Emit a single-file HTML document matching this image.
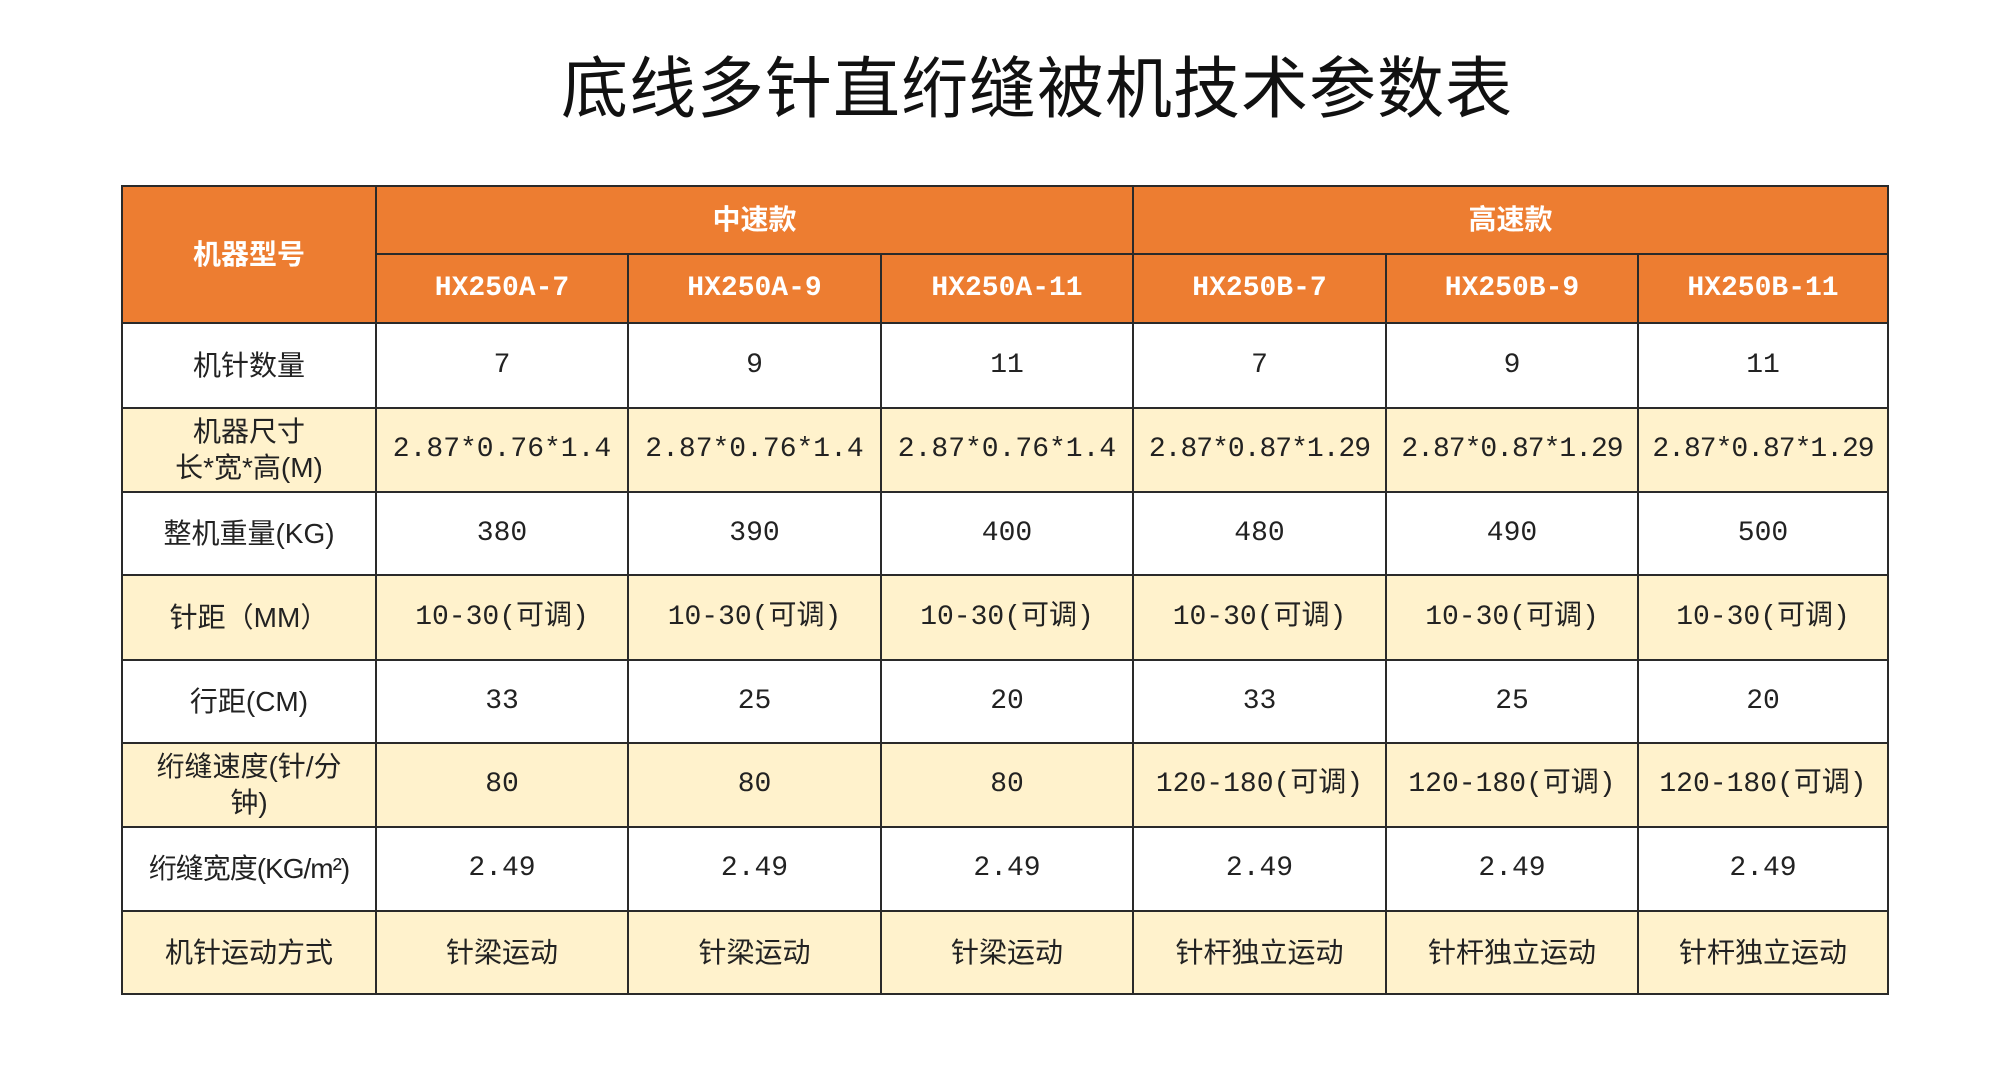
<!DOCTYPE html>
<html><head><meta charset="utf-8"><style>
html,body{margin:0;padding:0;background:#fff;width:2000px;height:1088px;overflow:hidden}
.t{position:absolute;left:74px;top:54px;width:1926px;text-align:center;font-family:"Liberation Sans","Noto Sans CJK SC",sans-serif;font-size:67px;color:#111;line-height:72px;letter-spacing:1px}
table{position:absolute;left:121px;top:185px;border-collapse:collapse;table-layout:fixed;width:1766px}
td{border:2px solid #2a2a2a;text-align:center;vertical-align:middle;padding:0;font-family:"Liberation Mono","Noto Sans CJK SC",monospace;font-size:28px;color:#222;line-height:36px;overflow:hidden;white-space:nowrap}
.h td{background:#ED7D31;color:#fff;font-weight:bold;font-family:"Liberation Mono","Noto Sans CJK SC",sans-serif;font-size:28px}
.y td{background:#FFF2CC}
td.l{font-family:"Liberation Sans","Noto Sans CJK SC",sans-serif;font-size:28px;line-height:36px}
</style></head><body>
<div class="t">底线多针直绗缝被机技术参数表</div>
<table>
<colgroup><col style="width:254px"><col style="width:252px"><col style="width:253px"><col style="width:252px"><col style="width:253px"><col style="width:252px"><col style="width:250px"></colgroup>
<tr class="h" style="height:68px"><td rowspan="2" style="font-family:'Liberation Sans','Noto Sans CJK SC',sans-serif">机器型号</td><td colspan="3" style="font-family:'Liberation Sans','Noto Sans CJK SC',sans-serif">中速款</td><td colspan="3" style="font-family:'Liberation Sans','Noto Sans CJK SC',sans-serif">高速款</td></tr>
<tr class="h" style="height:69px"><td>HX250A-7</td><td>HX250A-9</td><td>HX250A-11</td><td>HX250B-7</td><td>HX250B-9</td><td>HX250B-11</td></tr>
<tr style="height:85px"><td class="l">机针数量</td><td>7</td><td>9</td><td>11</td><td>7</td><td>9</td><td>11</td></tr>
<tr class="y" style="height:84px"><td class="l">机器尺寸<br>长*宽*高(M)</td><td>2.87*0.76*1.4</td><td>2.87*0.76*1.4</td><td>2.87*0.76*1.4</td><td style="letter-spacing:-1px">2.87*0.87*1.29</td><td style="letter-spacing:-1px">2.87*0.87*1.29</td><td style="letter-spacing:-1px">2.87*0.87*1.29</td></tr>
<tr style="height:83px"><td class="l">整机重量(KG)</td><td>380</td><td>390</td><td>400</td><td>480</td><td>490</td><td>500</td></tr>
<tr class="y" style="height:85px"><td class="l">针距（MM）</td><td>10-30(可调)</td><td>10-30(可调)</td><td>10-30(可调)</td><td>10-30(可调)</td><td>10-30(可调)</td><td>10-30(可调)</td></tr>
<tr style="height:83px"><td class="l">行距(CM)</td><td>33</td><td>25</td><td>20</td><td>33</td><td>25</td><td>20</td></tr>
<tr class="y" style="height:84px"><td class="l">绗缝速度(针/分<br>钟)</td><td>80</td><td>80</td><td>80</td><td>120-180(可调)</td><td>120-180(可调)</td><td>120-180(可调)</td></tr>
<tr style="height:84px"><td class="l" style="letter-spacing:-1px">绗缝宽度(KG/m²)</td><td>2.49</td><td>2.49</td><td>2.49</td><td>2.49</td><td>2.49</td><td>2.49</td></tr>
<tr class="y" style="height:83px"><td class="l">机针运动方式</td><td class="l">针梁运动</td><td class="l">针梁运动</td><td class="l">针梁运动</td><td class="l">针杆独立运动</td><td class="l">针杆独立运动</td><td class="l">针杆独立运动</td></tr>
</table>
</body></html>
